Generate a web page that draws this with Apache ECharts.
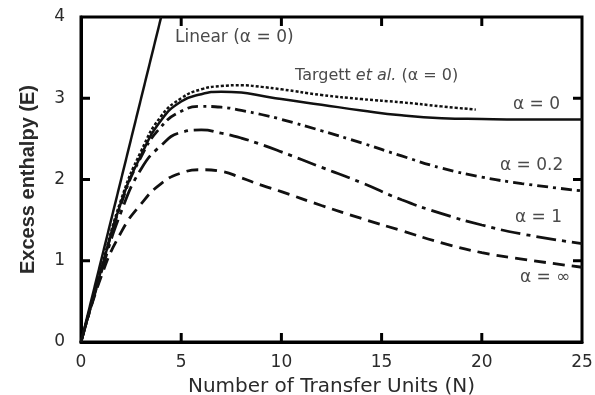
<!DOCTYPE html>
<html>
<head>
<meta charset="utf-8">
<script src="https://cdn.jsdelivr.net/npm/echarts@6/dist/echarts.min.js"></script>
<style>
  html, body { margin: 0; padding: 0; background: #fff; }
  #main { width: 595px; height: 395px; }
</style>
</head>
<body>
<div id="main"></div>
<script>
// data
const xTicks = [0, 5, 10, 15, 20, 25];
const yTicks = [0, 1, 2, 3, 4];

const linearN = [0, 4];
const linearE = [0, 4];

const nAlpha = [0, 1, 2, 3, 4, 5, 6, 7, 8, 9, 10, 12, 14, 16, 18, 20, 22, 25];
const eAlpha0 = [0, 0.88, 1.72, 2.30, 2.73, 2.96, 3.05, 3.08, 3.07, 3.03, 2.99, 2.92, 2.85, 2.79, 2.755, 2.745, 2.74, 2.74];
const eAlpha02 = [0, 0.88, 1.70, 2.28, 2.65, 2.84, 2.90, 2.89, 2.85, 2.80, 2.74, 2.60, 2.45, 2.29, 2.14, 2.03, 1.95, 1.86];
const eAlpha1 = [0, 0.85, 1.60, 2.13, 2.42, 2.58, 2.61, 2.57, 2.51, 2.43, 2.34, 2.15, 1.96, 1.75, 1.58, 1.44, 1.33, 1.21];
const eAlphaInf = [0, 0.80, 1.35, 1.70, 1.95, 2.08, 2.12, 2.10, 2.02, 1.93, 1.85, 1.68, 1.52, 1.37, 1.22, 1.10, 1.02, 0.92];

const nTargett = [0, 1, 2, 3, 4, 5, 6, 7, 8, 9, 10, 12, 14, 16, 18, 19.7];
const eTargett = [0, 0.90, 1.75, 2.35, 2.78, 3.00, 3.11, 3.15, 3.16, 3.14, 3.11, 3.04, 2.99, 2.95, 2.90, 2.86];

function pairs(xs, ys) {
    return xs.map((x, i) => [x, ys[i]]);
}

const xMin = xTicks[0], xMax = xTicks[xTicks.length - 1];
const yMin = yTicks[0], yMax = yTicks[yTicks.length - 1];

const chartDom = document.getElementById('main');
const myChart = echarts.init(chartDom);

const noteFont = { fontFamily: 'DejaVu Sans', fontSize: 17, fill: '#4a4a4a' };
const TICK = 9;
const tickStyle = { stroke: '#000', lineWidth: 3 };

function mkLine(name, data, type, width) {
    return {
        name,
        type: 'line',
        data,
        showSymbol: false,
        symbol: 'none',
        smooth: 0.5,
        clip: true,
        lineStyle: { color: '#111', width: width || 2.5, type: type || 'solid', cap: 'butt' },
        silent: true,
        z: 3
    };
}

// inward ticks on all four sides, placed through the axes' own scales
const innerX = xTicks.slice(1, -1);
const innerY = yTicks.slice(1, -1);

const xTickSeries = {
    type: 'custom',
    silent: true,
    clip: false,
    z: 4,
    data: innerX.map(x => [x, yMin]),
    renderItem: (params, api) => {
        const x = api.value(0);
        const b = api.coord([x, yMin]);
        const t = api.coord([x, yMax]);
        return {
            type: 'group',
            children: [
                { type: 'line', shape: { x1: b[0], y1: b[1], x2: b[0], y2: b[1] - TICK }, style: tickStyle },
                { type: 'line', shape: { x1: t[0], y1: t[1], x2: t[0], y2: t[1] + TICK }, style: tickStyle }
            ]
        };
    }
};

const yTickSeries = {
    type: 'custom',
    silent: true,
    clip: false,
    z: 4,
    data: innerY.map(y => [xMin, y]),
    renderItem: (params, api) => {
        const y = api.value(1);
        const l = api.coord([xMin, y]);
        const r = api.coord([xMax, y]);
        return {
            type: 'group',
            children: [
                { type: 'line', shape: { x1: l[0], y1: l[1], x2: l[0] + TICK, y2: l[1] }, style: tickStyle },
                { type: 'line', shape: { x1: r[0], y1: r[1], x2: r[0] - TICK, y2: r[1] }, style: tickStyle }
            ]
        };
    }
};

let option = {
    animation: false,
    backgroundColor: '#fff',
    grid: {
        left: 81, top: 17, right: 13, bottom: 53,
        show: true,
        borderColor: '#000',
        borderWidth: 3,
        outerBoundsMode: 'none',
        containLabel: false
    },
    xAxis: {
        type: 'value',
        min: xMin,
        max: xMax,
        interval: 5,
        name: 'Number of Transfer Units (N)',
        nameLocation: 'middle',
        nameGap: 35,
        nameTextStyle: { fontFamily: 'DejaVu Sans', fontSize: 20, color: '#2a2a2a' },
        axisLine: { show: true, onZero: false, lineStyle: { color: '#000', width: 3 } },
        axisTick: { show: false },
        splitLine: { show: false },
        axisLabel: { show: true, margin: 12, fontFamily: 'DejaVu Sans', fontSize: 17, color: '#2a2a2a' }
    },
    yAxis: {
        type: 'value',
        min: yMin,
        max: yMax,
        interval: 1,
        name: 'Excess enthalpy (E)',
        nameLocation: 'middle',
        nameGap: 43,
        nameTextStyle: { fontFamily: 'Liberation Sans', fontWeight: 'bold', fontSize: 20, color: '#2a2a2a' },
        axisLine: { show: true, onZero: false, lineStyle: { color: '#000', width: 3 } },
        axisTick: { show: false },
        splitLine: { show: false },
        axisLabel: { show: true, margin: 16, fontFamily: 'DejaVu Sans', fontSize: 17, color: '#2a2a2a' }
    },
    series: [
        mkLine('Linear', pairs(linearN, linearE), 'solid', 2.5),
        mkLine('Targett', pairs(nTargett, eTargett), [3, 2], 2.5),
        mkLine('alpha0', pairs(nAlpha, eAlpha0), 'solid', 2.5),
        mkLine('alpha0.2', pairs(nAlpha, eAlpha02), [11, 5, 3, 5], 2.8),
        mkLine('alpha1', pairs(nAlpha, eAlpha1), [20, 6, 4, 6], 2.8),
        mkLine('alphaInf', pairs(nAlpha, eAlphaInf), [12, 7], 2.8),
        xTickSeries,
        yTickSeries
    ],
    graphic: [
        { type: 'text', left: 175, top: 29, style: Object.assign({ text: 'Linear (α = 0)' }, noteFont) },
        {
            type: 'text', left: 295, top: 68,
            style: Object.assign({
                text: '{n|Targett }{i|et al.}{n| (α = 0)}',
                rich: {
                    n: { fontFamily: 'DejaVu Sans', fontSize: 16, fill: '#4a4a4a' },
                    i: { fontFamily: 'DejaVu Sans', fontSize: 16, fontStyle: 'italic', fill: '#4a4a4a' }
                }
            }, noteFont)
        },
        { type: 'text', left: 513, top: 96, style: Object.assign({ text: 'α = 0' }, noteFont) },
        { type: 'text', left: 500, top: 157, style: Object.assign({ text: 'α = 0.2' }, noteFont) },
        { type: 'text', left: 515, top: 209, style: Object.assign({ text: 'α = 1' }, noteFont) },
        { type: 'text', left: 520, top: 269, style: Object.assign({ text: 'α = ∞' }, noteFont) }
    ]
};

option && myChart.setOption(option);
</script>
</body>
</html>
